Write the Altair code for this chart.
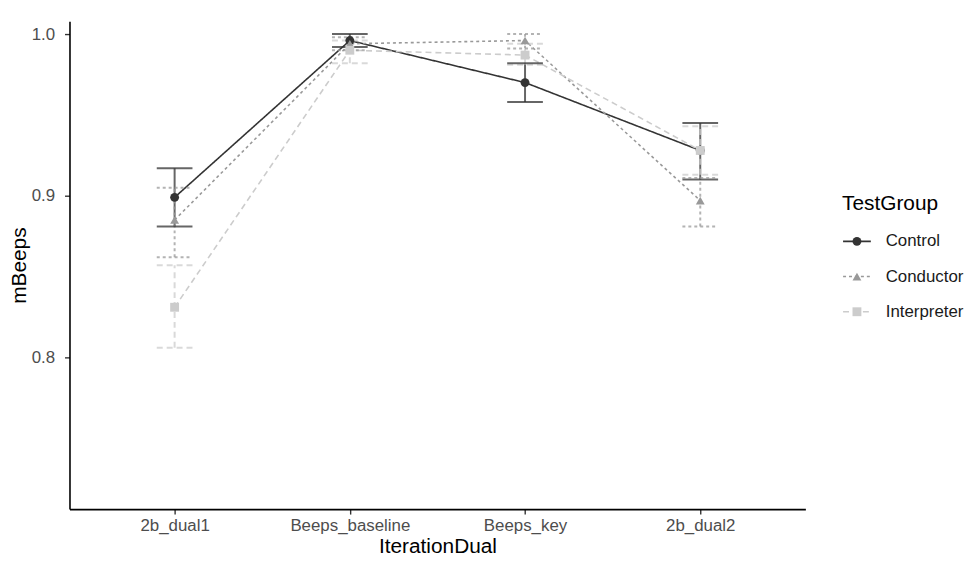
import altair as alt
import pandas as pd

cats = ["2b_dual1", "Beeps_baseline", "Beeps_key", "2b_dual2"]
groups = ["Control", "Conductor", "Interpreter"]

control_mean = [0.899, 0.996, 0.970, 0.928]
control_lo = [0.881, 0.992, 0.958, 0.910]
control_hi = [0.917, 1.000, 0.982, 0.945]

conductor_mean = [0.885, 0.994, 0.996, 0.897]
conductor_lo = [0.862, 0.990, 0.991, 0.881]
conductor_hi = [0.905, 0.998, 1.000, 0.911]

interpreter_mean = [0.831, 0.990, 0.987, 0.928]
interpreter_lo = [0.806, 0.982, 0.981, 0.913]
interpreter_hi = [0.857, 0.996, 0.994, 0.943]

colors = ["#333333", "#999999", "#cccccc"]
dashes = [[1, 0], [3, 3], [6, 4]]
shapes = ["circle", "triangle-up", "square"]

rows = []
for g, m, lo, hi in [
    ("Control", control_mean, control_lo, control_hi),
    ("Conductor", conductor_mean, conductor_lo, conductor_hi),
    ("Interpreter", interpreter_mean, interpreter_lo, interpreter_hi),
]:
    for c, a, b, d in zip(cats, m, lo, hi):
        rows.append({"IterationDual": c, "TestGroup": g, "mBeeps": a, "lo": b, "hi": d})
df = pd.DataFrame(rows)

FONT = "Liberation Sans"
W, H = 742, 492

xenc = alt.X("IterationDual:N", sort=cats, scale=alt.Scale(type="point", padding=0.6),
             axis=alt.Axis(title="IterationDual", labelAngle=0))
yscale = alt.Scale(domain=[0.70614, 1.00798], nice=False, zero=False)
yenc = alt.Y("mBeeps:Q", scale=yscale,
             axis=alt.Axis(title="mBeeps", values=[0.8, 0.9, 1.0], format=".1f"))
col = alt.Color("TestGroup:N", scale=alt.Scale(domain=groups, range=colors), legend=None)
dash = alt.StrokeDash("TestGroup:N", scale=alt.Scale(domain=groups, range=dashes), legend=None)
shp = alt.Shape("TestGroup:N", scale=alt.Scale(domain=groups, range=shapes), legend=None)

base = alt.Chart(df)

lines = base.mark_line(strokeWidth=1.6).encode(x=xenc, y=yenc, color=col, strokeDash=dash,
                                               detail="TestGroup:N")
ebar = base.mark_rule(strokeWidth=2, opacity=0.75).encode(
    x=xenc, y=alt.Y("lo:Q", scale=yscale), y2="hi:Q", color=col, strokeDash=dash)
cap_lo = base.mark_rule(strokeWidth=2, opacity=0.75, xOffset=-18, x2Offset=18).encode(
    x=xenc, x2="IterationDual:N", y=alt.Y("lo:Q", scale=yscale), color=col, strokeDash=dash)
cap_hi = base.mark_rule(strokeWidth=2, opacity=0.75, xOffset=-18, x2Offset=18).encode(
    x=xenc, x2="IterationDual:N", y=alt.Y("hi:Q", scale=yscale), color=col, strokeDash=dash)
pts = base.mark_point(filled=True, size=80, opacity=1).encode(
    x=xenc, y=yenc, color=col, shape=shp)

main = alt.layer(lines, ebar, cap_lo, cap_hi, pts)

# custom legend (line + symbol per entry)
leg_df = pd.DataFrame({"TestGroup": groups, "idx": [0, 1, 2]})
leg_y = alt.Y("idx:Q", scale=alt.Scale(domain=[0, 2], range=[222, 293], nice=False, zero=False),
              axis=None)
leg_base = alt.Chart(leg_df)
leg_line = leg_base.mark_rule(strokeWidth=1.6).encode(
    x=alt.value(780), x2=alt.value(808), y=leg_y, color=col, strokeDash=dash)
leg_pt = leg_base.mark_point(filled=True, size=80, opacity=1).encode(
    x=alt.value(794), y=leg_y, color=col, shape=shp)
leg_txt = leg_base.mark_text(align="left", baseline="middle", font=FONT, fontSize=17,
                             color="#1a1a1a").encode(
    x=alt.value(823), y=leg_y, text="TestGroup:N")
leg_title = alt.Chart(pd.DataFrame({"t": ["TestGroup"]})).mark_text(
    align="left", baseline="middle", font=FONT, fontSize=21, color="#000000").encode(
    x=alt.value(779), y=alt.value(184), text="t:N")
legend = alt.layer(leg_line, leg_pt, leg_txt, leg_title)

chart = alt.layer(main, legend).resolve_scale(y="independent").properties(
    width=W, height=H,
    autosize=alt.AutoSizeParams(type="none"),
    padding={"left": 62, "top": 11, "right": 167, "bottom": 45},
).configure_view(stroke=None).configure_axis(
    grid=False, domainColor="#000000", domainWidth=1.6, tickColor="#333333", tickWidth=1.4,
    tickSize=5, labelColor="#4d4d4d", labelFont=FONT, labelFontSize=17,
    titleFont=FONT, titleFontSize=21, titleFontWeight="normal", titleColor="#000000",
).configure_axisY(labelPadding=10, titlePadding=2).configure_axisX(labelPadding=4, titlePadding=2)

chart.save("out.html", embed_options={"renderer": "svg", "actions": False})
